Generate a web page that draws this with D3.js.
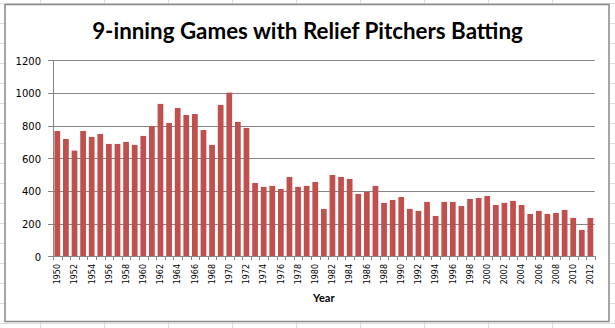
<!DOCTYPE html>
<html>
<head>
<meta charset="utf-8">
<script src="https://cdn.jsdelivr.net/npm/d3@7/dist/d3.min.js"></script>
<style>
  html, body { margin: 0; padding: 0; background: #fff; }
  svg { display: block; }
</style>
</head>
<body>
<svg id="chart" width="615" height="328"></svg>
<script>
(function () {
const title = "9-inning Games with Relief Pitchers Batting";
const xTitle = "Year";
const years = [1950,1951,1952,1953,1954,1955,1956,1957,1958,1959,
  1960,1961,1962,1963,1964,1965,1966,1967,1968,1969,
  1970,1971,1972,1973,1974,1975,1976,1977,1978,1979,
  1980,1981,1982,1983,1984,1985,1986,1987,1988,1989,
  1990,1991,1992,1993,1994,1995,1996,1997,1998,1999,
  2000,2001,2002,2003,2004,2005,2006,2007,2008,2009,
  2010,2011,2012];
const games = [767,718,647,767,731,749,688,688,700,682,
  737,798,933,816,908,865,871,773,682,927,
  1002,823,786,449,425,431,412,486,425,431,
  455,290,498,486,474,382,394,431,327,345,
  363,290,278,333,247,333,333,308,351,357,
  369,314,327,339,314,259,278,259,265,284,
  235,161,235];
const yTicks = [0,200,400,600,800,1000,1200];
const xTickLabels = [1950,1952,1954,1956,1958,1960,1962,1964,1966,1968,1970,1972,1974,1976,1978,1980,
  1982,1984,1986,1988,1990,1992,1994,1996,1998,2000,2002,2004,2006,2008,2010,2012];

const svg = d3.select("#chart");
const W = 615, H = 328;

// spreadsheet background grid
const bg = svg.append("g");
for (let gx = 40; gx < W; gx += 64) {
  bg.append("line").attr("x1", gx + 0.5).attr("x2", gx + 0.5).attr("y1", 0).attr("y2", H)
    .attr("stroke", "#dadcdd").attr("stroke-width", 1);
}
for (let gy = 3; gy < H; gy += 20) {
  bg.append("line").attr("x1", 0).attr("x2", W).attr("y1", gy + 0.5).attr("y2", gy + 0.5)
    .attr("stroke", "#dadcdd").attr("stroke-width", 1);
}

// chart area
svg.append("rect").attr("x", 5).attr("y", 4.5).attr("width", 604).attr("height", 317)
  .attr("fill", "#fff").attr("stroke", "#898989").attr("stroke-width", 1.5);

const pLeft = 53, pRight = 594.7, pTop = 60.3, pBottom = 256.3;
const x = d3.scaleBand().domain(years).range([pLeft, pRight]).paddingInner(1/3).paddingOuter(1/6);
const y = d3.scaleLinear().domain([0, 1200]).range([pBottom, pTop]);

const gridColor = "#868686";
// gridlines
svg.append("g").selectAll("line").data(yTicks).join("line")
  .attr("x1", 48).attr("x2", pRight)
  .attr("y1", d => Math.round(y(d)) + 0.5).attr("y2", d => Math.round(y(d)) + 0.5)
  .attr("stroke", gridColor).attr("stroke-width", 1);

// y labels
svg.append("g").selectAll("text").data(yTicks).join("text")
  .attr("x", 41).attr("y", d => y(d) + 1).attr("dy", "0.35em")
  .attr("text-anchor", "end")
  .attr("font-family", "DejaVu Sans, sans-serif").attr("font-size", 10)
  .attr("fill", "#000").text(d => d);

// bars
svg.append("g").selectAll("rect").data(years).join("rect")
  .attr("x", d => x(d)).attr("width", x.bandwidth())
  .attr("y", (d, i) => y(games[i])).attr("height", (d, i) => pBottom - y(games[i]))
  .attr("fill", "#c0504d");

// y axis line
svg.append("line").attr("x1", pLeft + 0.5).attr("x2", pLeft + 0.5).attr("y1", pTop).attr("y2", pBottom + 0.5)
  .attr("stroke", gridColor);
// x axis line
svg.append("line").attr("x1", 48).attr("x2", pRight).attr("y1", Math.round(pBottom) + 0.5).attr("y2", Math.round(pBottom) + 0.5)
  .attr("stroke", gridColor);

// x tick marks at category boundaries
const step = x.step();
const bounds = years.map(d => x(d) - (step - x.bandwidth()) / 2).concat([pRight]);
svg.append("g").selectAll("line").data(bounds).join("line")
  .attr("x1", d => Math.round(d) + 0.5).attr("x2", d => Math.round(d) + 0.5)
  .attr("y1", Math.round(pBottom)).attr("y2", Math.round(pBottom) + 4)
  .attr("stroke", gridColor);

// x labels rotated
svg.append("g").selectAll("text").data(xTickLabels).join("text")
  .attr("transform", d => `translate(${x(d) + x.bandwidth() / 2},264) rotate(-90)`)
  .attr("dy", "0.35em").attr("text-anchor", "end")
  .attr("font-family", "DejaVu Sans, sans-serif").attr("font-size", 8)
  .attr("fill", "#000").text(d => d);

// axis title
svg.append("text").attr("x", (pLeft + pRight) / 2).attr("y", 301.5)
  .attr("text-anchor", "middle").attr("font-family", "Lato, sans-serif")
  .attr("font-weight", "bold").attr("font-size", 11).attr("fill", "#000").text(xTitle);

// chart title
const t = svg.append("text").attr("x", 307.5).attr("y", 38.5)
  .attr("text-anchor", "middle").attr("font-family", "Lato, sans-serif")
  .attr("font-weight", "bold").attr("font-size", 23).attr("fill", "#000").text(title);
const tw = t.node().getComputedTextLength();
t.attr("font-size", 23 * 431 / tw);
})();
</script>
</body>
</html>
